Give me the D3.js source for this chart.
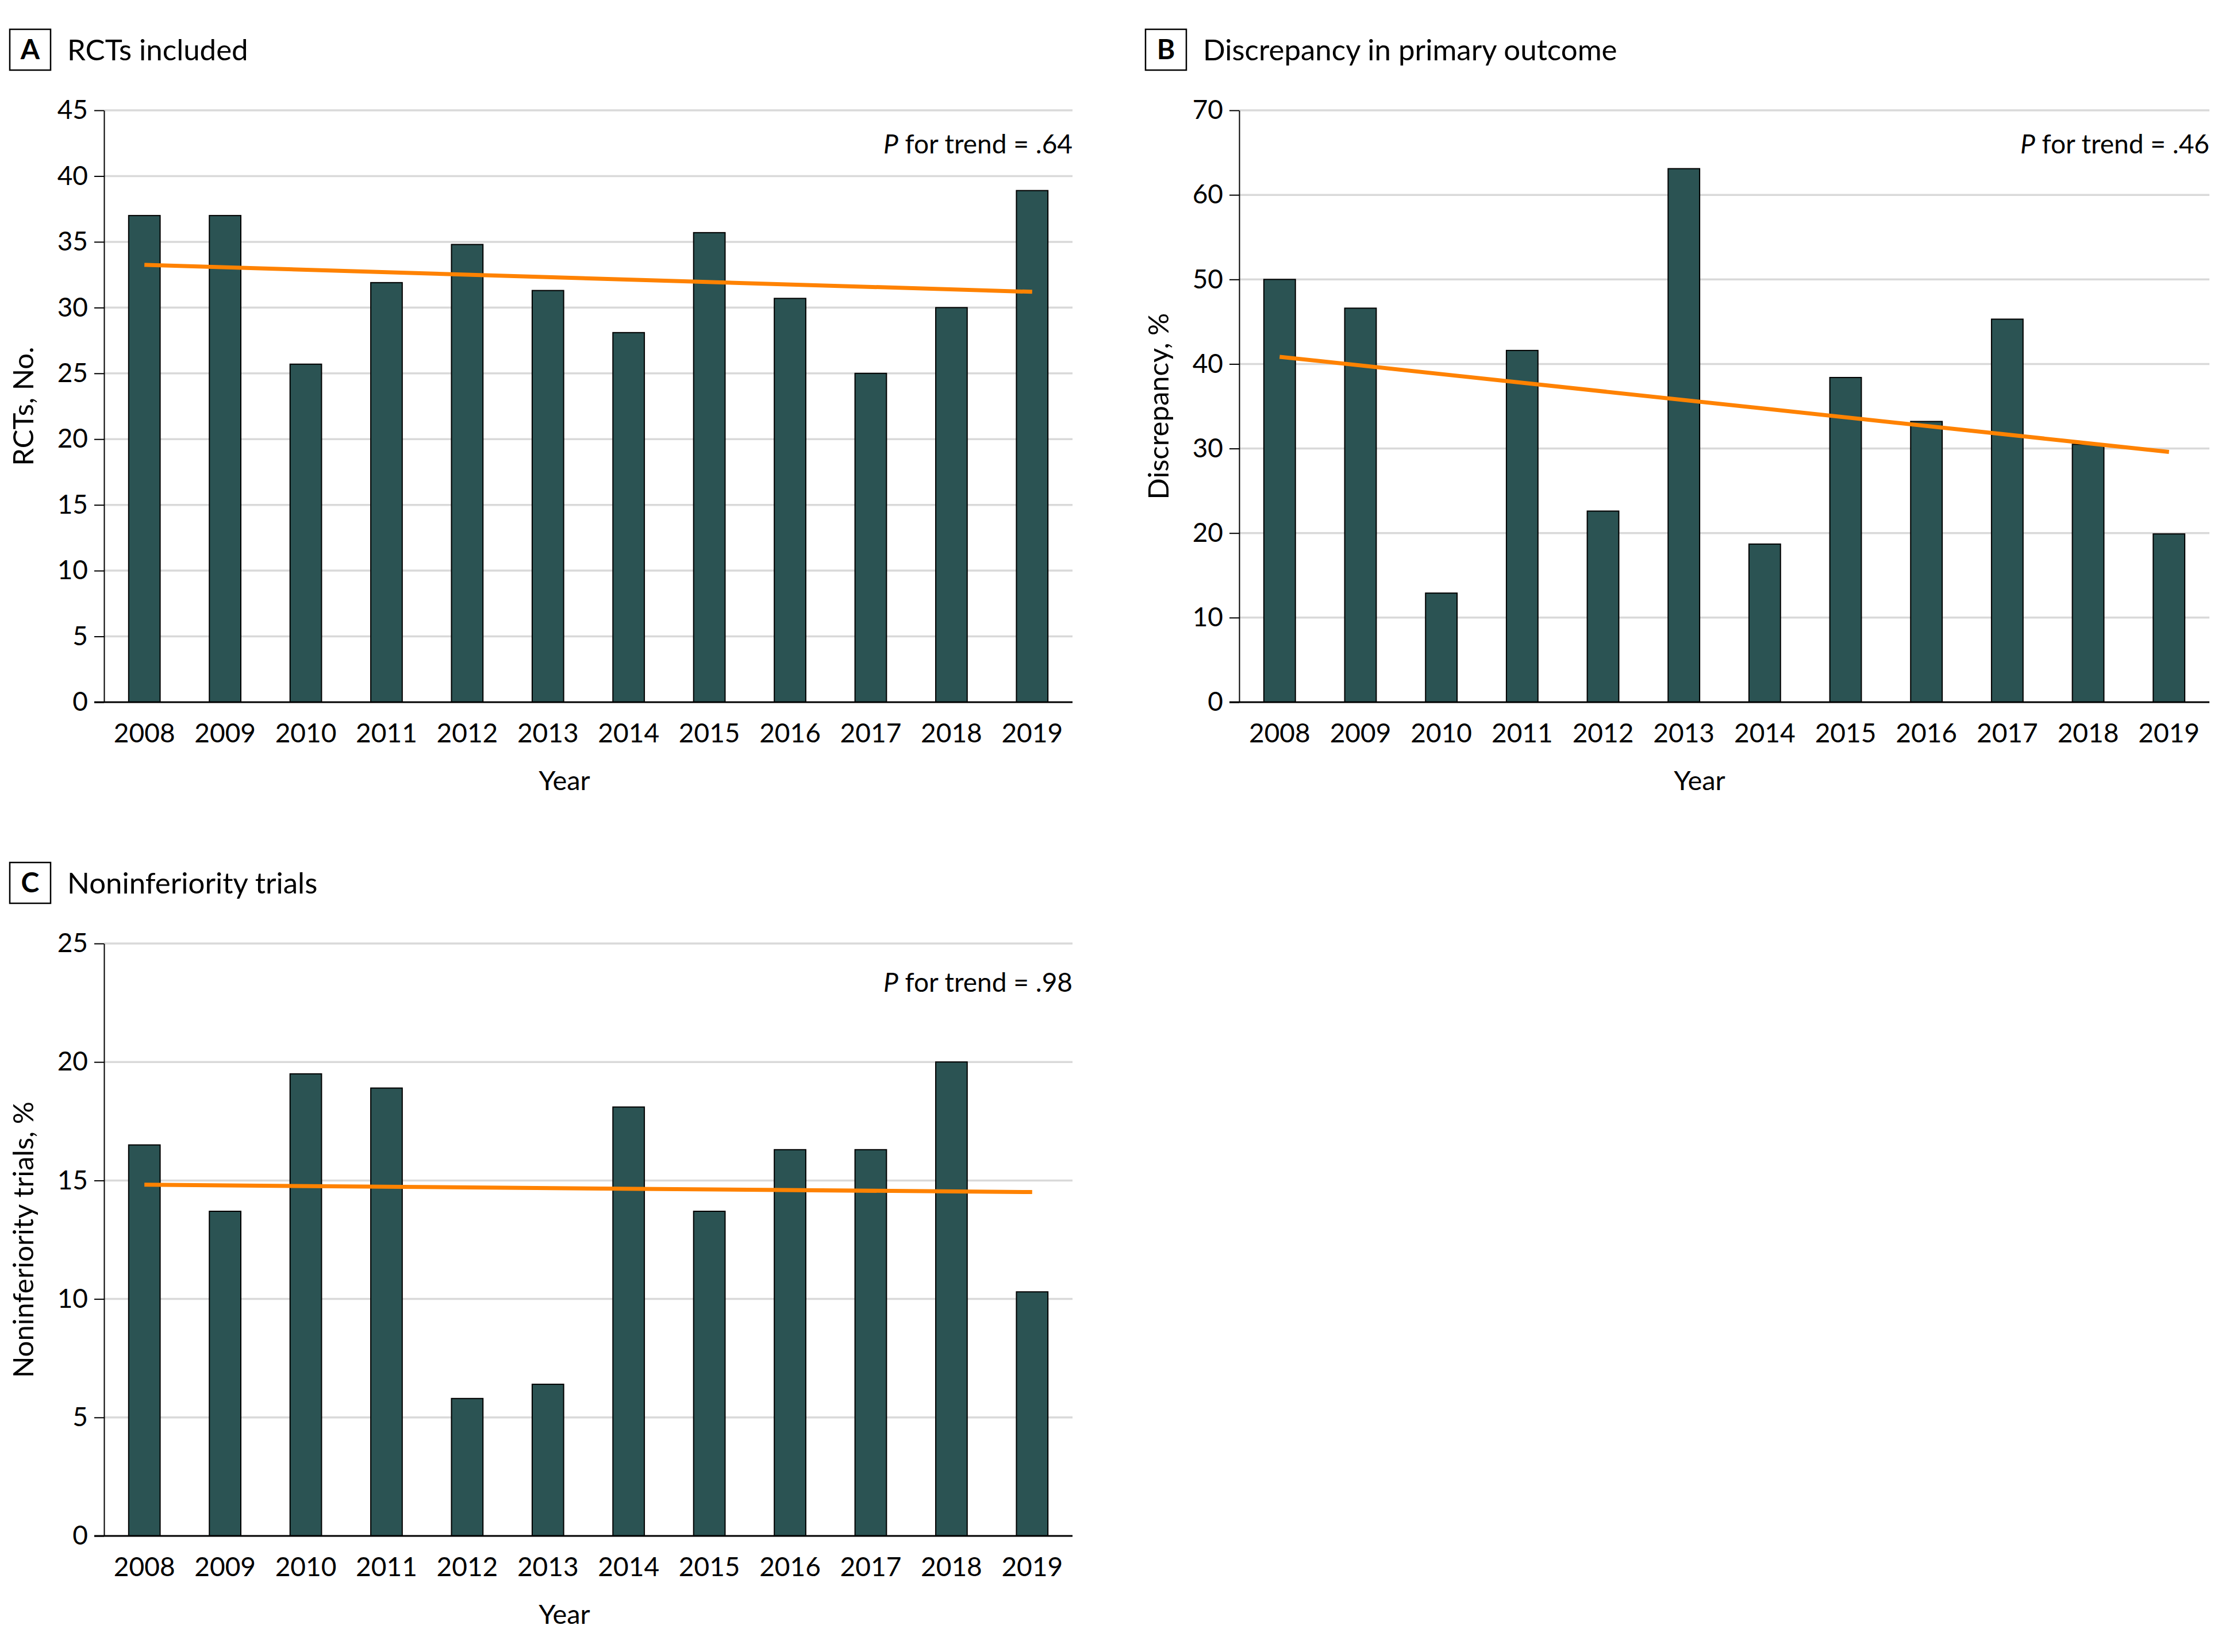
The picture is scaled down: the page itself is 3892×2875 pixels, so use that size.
<!DOCTYPE html>
<html>
<head>
<meta charset="utf-8">
<script src="https://cdn.jsdelivr.net/npm/d3@7"></script>
<style>
  html, body { margin: 0; padding: 0; background: #fff; }
  svg { display: block; }
  text { font-family: Lato, "Noto Sans", sans-serif; fill: #000; }
</style>
</head>
<body>
<svg id="chart" width="3892" height="2875"></svg>
<script>
// ---------- data ----------
const years = ["2008","2009","2010","2011","2012","2013","2014","2015","2016","2017","2018","2019"];

const rctsIncluded      = [37.0, 37.0, 25.7, 31.9, 34.8, 31.3, 28.1, 35.7, 30.7, 25.0, 30.0, 38.9];
const discrepancyPct    = [50.0, 46.6, 12.9, 41.6, 22.6, 63.1, 18.7, 38.4, 33.2, 45.3, 30.5, 19.9];
const noninferiorityPct = [16.5, 13.7, 19.5, 18.9, 5.8, 6.4, 18.1, 13.7, 16.3, 16.3, 20.0, 10.3];

// trend line: value at first year, value at last year
const trendA = [33.25, 31.2];
const trendB = [40.85, 29.6];
const trendC = [14.82, 14.51];

const ticksA = [0, 5, 10, 15, 20, 25, 30, 35, 40, 45];
const ticksB = [0, 10, 20, 30, 40, 50, 60, 70];
const ticksC = [0, 5, 10, 15, 20, 25];

const pTrendA = ".64", pTrendB = ".46", pTrendC = ".98";

// ---------- layout ----------
const panels = [
  { letter: "A", title: "RCTs included", values: rctsIncluded, trend: trendA, ticks: ticksA,
    yLabel: "RCTs, No.", p: pTrendA,
    left: 181, right: 1866, top: 192, bottom: 1222, boxX: 17, boxY: 51 },
  { letter: "B", title: "Discrepancy in primary outcome", values: discrepancyPct, trend: trendB, ticks: ticksB,
    yLabel: "Discrepancy, %", p: pTrendB,
    left: 2156, right: 3844, top: 192, bottom: 1222, boxX: 1993, boxY: 51 },
  { letter: "C", title: "Noninferiority trials", values: noninferiorityPct, trend: trendC, ticks: ticksC,
    yLabel: "Noninferiority trials, %", p: pTrendC,
    left: 181, right: 1866, top: 1642, bottom: 2673, boxX: 17, boxY: 1501 }
];

const svg = d3.select("#chart");
svg.append("rect").attr("width", 3892).attr("height", 2875).attr("fill", "#fff");

const BAR = "#2b5353", ORANGE = "#ff8200", GRID = "#d9d9d9";
const pOffsets = { A: 75, B: 75, C: 84 };

panels.forEach(pn => {
  const g = svg.append("g");
  const x = d3.scaleBand().domain(years).range([pn.left, pn.right])
    .paddingInner(0.61).paddingOuter(0.305);
  const y = d3.scaleLinear().domain([0, d3.max(pn.ticks)]).range([pn.bottom, pn.top]);

  // gridlines
  g.append("g").selectAll("line").data(pn.ticks.filter(t => t > 0)).join("line")
    .attr("x1", pn.left).attr("x2", pn.right)
    .attr("y1", d => y(d)).attr("y2", d => y(d))
    .attr("stroke", GRID).attr("stroke-width", 3.5);

  // bars
  g.append("g").selectAll("rect").data(pn.values).join("rect")
    .attr("x", (d, i) => x(years[i]))
    .attr("width", x.bandwidth())
    .attr("y", d => y(d))
    .attr("height", d => y(0) - y(d))
    .attr("fill", BAR).attr("stroke", "#000").attr("stroke-width", 2);

  // y axis
  const yAxis = g.append("g").attr("transform", `translate(${pn.left},0)`)
    .call(d3.axisLeft(y).tickValues(pn.ticks).tickFormat(d3.format("d"))
      .tickSize(17).tickSizeOuter(0).tickPadding(11));
  yAxis.select(".domain").attr("stroke", "#000").attr("stroke-width", 2);
  yAxis.selectAll(".tick line").attr("stroke", "#000").attr("stroke-width", 2);
  yAxis.selectAll(".tick text").attr("font-size", 46).attr("font-family", "Lato, 'Noto Sans', sans-serif")
    .attr("fill", "#000");

  // x axis
  const xAxis = g.append("g").attr("transform", `translate(0,${pn.bottom})`)
    .call(d3.axisBottom(x).tickSize(0).tickSizeOuter(0).tickPadding(37));
  xAxis.select(".domain").remove();
  xAxis.selectAll(".tick text").attr("font-size", 46).attr("font-family", "Lato, 'Noto Sans', sans-serif")
    .attr("fill", "#000");
  g.append("line").attr("x1", pn.left - 17).attr("x2", pn.right)
    .attr("y1", y(0)).attr("y2", y(0)).attr("stroke", "#000").attr("stroke-width", 3);

  // trend line
  const first = years[0], last = years[years.length - 1];
  const trendPts = [[first, pn.trend[0]], [last, pn.trend[1]]];
  g.append("path")
    .attr("d", d3.line().x(d => x(d[0]) + x.bandwidth() / 2).y(d => y(d[1]))(trendPts))
    .attr("fill", "none").attr("stroke", ORANGE).attr("stroke-width", 7);

  // P for trend
  const pt = g.append("text").attr("x", pn.right).attr("y", pn.top + pOffsets[pn.letter])
    .attr("text-anchor", "end").attr("font-size", 46);
  pt.append("tspan").attr("font-style", "italic").text("P");
  pt.append("tspan").text(" for trend = " + pn.p);

  // y label
  g.append("text")
    .attr("transform", `translate(${pn.left - 123},${(pn.top + pn.bottom) / 2}) rotate(-90)`)
    .attr("text-anchor", "middle").attr("font-size", 49).text(pn.yLabel);

  // x label
  g.append("text").attr("x", pn.left + 801).attr("y", pn.bottom + 153)
    .attr("text-anchor", "middle").attr("font-size", 47).text("Year");

  // panel letter box + title
  g.append("rect").attr("x", pn.boxX).attr("y", pn.boxY).attr("width", 71).attr("height", 71)
    .attr("fill", "#fff").attr("stroke", "#000").attr("stroke-width", 2.5);
  g.append("text").attr("x", pn.boxX + 35.5).attr("y", pn.boxY + 52)
    .attr("text-anchor", "middle").attr("font-size", 48).attr("font-weight", "bold").text(pn.letter);
  g.append("text").attr("x", pn.boxX + 100).attr("y", pn.boxY + 54)
    .attr("font-size", 51).text(pn.title);
});
</script>
</body>
</html>
